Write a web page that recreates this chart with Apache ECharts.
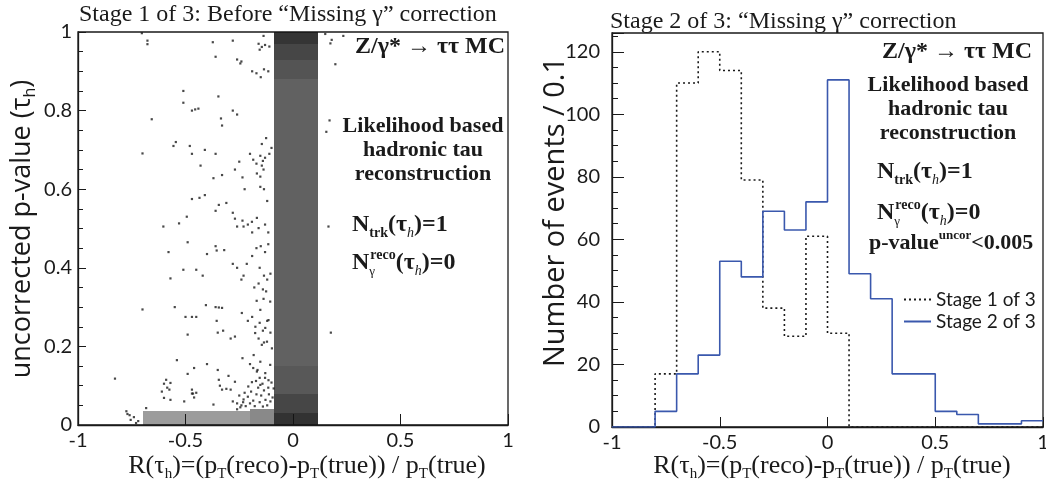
<!DOCTYPE html>
<html>
<head>
<meta charset="utf-8">
<script src="https://cdn.jsdelivr.net/npm/echarts@6/dist/echarts.min.js"></script>
<style>
  html, body { margin: 0; padding: 0; background: #fff; }
  #chart { width: 1046px; height: 485px; }
</style>
</head>
<body>
<div id="chart"></div>
<script>
// --- right panel: histograms of R, bin width 0.1 ---
const binEdges = [-1, -0.9, -0.8, -0.7, -0.6, -0.5, -0.4, -0.3, -0.2, -0.1, 0, 0.1, 0.2, 0.3, 0.4, 0.5, 0.6, 0.7, 0.8, 0.9, 1];
const stage1Counts = [0, 0, 17, 110, 120, 114, 79, 38, 29, 61, 30, 0, 0, 0, 0, 0, 0, 0, 0, 0];
const stage2Counts = [0, 0, 5, 17, 23, 53, 48, 69, 63, 72, 111, 49, 41, 17, 17, 5, 4, 1, 1, 2];
const seriesNames = ['Stage 1 of 3', 'Stage 2 of 3'];

// --- left panel: scatter of [R, uncorrected p-value] ---
// dense regions read as 2D density: [R0, R1, p0, p1, darkness]
const denseCells = [
  [-0.09, 0.115, 0.97, 1.00, 0.86],
  [-0.09, 0.115, 0.93, 0.97, 0.79],
  [-0.09, 0.115, 0.88, 0.93, 0.73],
  [-0.09, 0.115, 0.15, 0.88, 0.67],
  [-0.09, 0.115, 0.08, 0.15, 0.71],
  [-0.09, 0.115, 0.03, 0.08, 0.79],
  [-0.09, 0.115, 0.00, 0.03, 0.87],
  [-0.70, -0.20, 0.00, 0.035, 0.42],
  [-0.20, -0.09, 0.00, 0.04, 0.5]
];
// isolated events
const sparsePoints = [
  [-0.703, 0.997], [-0.677, 0.978], [-0.677, 0.969], [-0.373, 0.974], [-0.28, 0.978], [-0.137, 0.99],
  [-0.16, 0.97], [-0.155, 0.955], [-0.145, 0.962], [-0.13, 0.967], [-0.11, 0.963], [-0.36, 0.937],
  [-0.26, 0.93], [-0.245, 0.92], [-0.24, 0.925], [-0.19, 0.9], [-0.17, 0.895], [-0.15, 0.885],
  [-0.135, 0.905], [-0.115, 0.9], [0.174, 0.971], [0.18, 0.98], [0.197, 0.918], [0.234, 0.99], [0.15, 0.995],
  [-0.70, 0.691], [-0.657, 0.778], [-0.51, 0.82], [-0.51, 0.85], [-0.47, 0.8], [-0.455, 0.803], [-0.44, 0.805],
  [-0.347, 0.836], [-0.335, 0.78], [-0.33, 0.762], [-0.28, 0.8], [-0.26, 0.79], [-0.556, 0.71], [-0.545, 0.72],
  [-0.48, 0.71], [-0.47, 0.69], [-0.41, 0.7], [-0.36, 0.69], [-0.43, 0.66], [-0.25, 0.67],
  [-0.2, 0.69], [-0.185, 0.675], [-0.17, 0.665], [-0.152, 0.685], [-0.145, 0.715], [-0.125, 0.73], [-0.11, 0.69], [-0.1, 0.705],
  [-0.37, 0.628], [-0.33, 0.636], [-0.27, 0.65], [-0.235, 0.63], [-0.225, 0.6], [-0.168, 0.64], [-0.152, 0.606], [-0.137, 0.65],
  [-0.47, 0.575], [-0.435, 0.578], [-0.41, 0.585], [-0.36, 0.545], [-0.345, 0.56], [-0.31, 0.565],
  [-0.603, 0.505], [-0.53, 0.513], [-0.494, 0.53], [-0.28, 0.54], [-0.27, 0.525], [-0.26, 0.505], [-0.235, 0.52],
  [-0.23, 0.505], [-0.21, 0.51], [-0.19, 0.49], [-0.168, 0.527], [-0.13, 0.51], [-0.115, 0.49],
  [-0.191, 0.517], [-0.16, 0.501], [-0.152, 0.632], [-0.145, 0.66], [-0.14, 0.672], [-0.13, 0.68], [-0.135, 0.6], [-0.12, 0.57],
  [-0.579, 0.44], [-0.49, 0.465], [-0.40, 0.435], [-0.36, 0.455], [-0.355, 0.444], [-0.32, 0.445], [-0.57, 0.373],
  [-0.51, 0.395], [-0.45, 0.395], [-0.42, 0.38], [-0.28, 0.41], [-0.26, 0.4], [-0.24, 0.37], [-0.23, 0.38],
  [-0.215, 0.41], [-0.19, 0.43], [-0.155, 0.4], [-0.135, 0.38], [-0.12, 0.37], [-0.105, 0.385],
  [-0.17, 0.45], [-0.15, 0.455], [-0.13, 0.44], [-0.115, 0.46], [-0.18, 0.35], [-0.16, 0.36], [-0.14, 0.345], [-0.125, 0.34],
  [-0.70, 0.294], [-0.55, 0.3], [-0.5, 0.275], [-0.405, 0.305], [-0.36, 0.3], [-0.345, 0.299], [-0.33, 0.298],
  [-0.238, 0.285], [-0.49, 0.23], [-0.47, 0.275], [-0.45, 0.275], [-0.355, 0.265], [-0.35, 0.235], [-0.325, 0.24],
  [-0.29, 0.22], [-0.27, 0.225], [-0.21, 0.265], [-0.19, 0.275], [-0.175, 0.25], [-0.155, 0.26], [-0.14, 0.24],
  [-0.12, 0.265], [-0.105, 0.235], [-0.135, 0.21],
  [-0.169, 0.316], [-0.137, 0.321], [-0.106, 0.314], [-0.152, 0.293], [-0.114, 0.267], [-0.129, 0.247], [-0.176, 0.234],
  [-0.16, 0.22], [-0.145, 0.204], [-0.121, 0.212], [-0.098, 0.195], [-0.183, 0.178], [-0.152, 0.161], [-0.106, 0.153],
  [-0.168, 0.136], [-0.129, 0.132], [-0.191, 0.109], [-0.152, 0.102], [-0.114, 0.114], [-0.09, 0.093],
  [-0.54, 0.165], [-0.49, 0.13], [-0.46, 0.145], [-0.40, 0.155], [-0.828, 0.118], [-0.60, 0.105], [-0.585, 0.095],
  [-0.575, 0.09], [-0.61, 0.085], [-0.47, 0.09], [-0.465, 0.08], [-0.35, 0.14], [-0.345, 0.115], [-0.34, 0.1],
  [-0.30, 0.125], [-0.29, 0.09], [-0.27, 0.11], [-0.235, 0.17], [-0.2, 0.155], [-0.185, 0.145], [-0.165, 0.14],
  [-0.155, 0.12], [-0.13, 0.12], [-0.115, 0.095],
  [-0.245, 0.045], [-0.232, 0.058], [-0.22, 0.048], [-0.21, 0.072], [-0.2, 0.055], [-0.195, 0.085], [-0.185, 0.062],
  [-0.178, 0.048], [-0.17, 0.078], [-0.162, 0.095], [-0.155, 0.058], [-0.148, 0.075], [-0.14, 0.047], [-0.135, 0.088],
  [-0.128, 0.064], [-0.12, 0.05], [-0.112, 0.078], [-0.105, 0.06], [-0.1, 0.108], [-0.095, 0.07], [-0.142, 0.105],
  [-0.172, 0.112], [-0.208, 0.098], [-0.225, 0.082], [-0.26, 0.04],
  [0.155, 0.746], [0.17, 0.775], [0.165, 0.505], [0.176, 0.235],
  [-0.775, 0.035], [-0.77, 0.028], [-0.76, 0.025], [-0.755, 0.013], [-0.74, 0.02], [-0.72, 0.01], [-0.73, 0.005],
  [-0.683, 0.043], [-0.6, 0.069], [-0.57, 0.064], [-0.59, 0.115], [-0.57, 0.107], [-0.506, 0.06], [-0.47, 0.08],
  [-0.46, 0.07], [-0.45, 0.082], [-0.37, 0.052], [-0.33, 0.09], [-0.31, 0.092], [-0.28, 0.06], [-0.26, 0.055],
  [-0.25, 0.075], [-0.24, 0.05], [-0.23, 0.065]
];

const SERIF = '"Liberation Serif", "DejaVu Serif", serif';
const SANS = 'Lato, "Liberation Sans", sans-serif';
const TITLE_SANS = '"Open Sans", Lato, sans-serif';
const INK = '#1a1a1a';
const BLUE = '#3a58ad';

// histogram -> step line points at the bin edges
function stepData(counts) {
  const pts = counts.map((c, i) => [binEdges[i], c]);
  pts.push([binEdges[binEdges.length - 1], counts[counts.length - 1]]);
  return pts;
}

// rich text styles for the labels in the pads
function padRich(size) {
  const small = Math.round(size * 0.6);
  return {
    m: { fontFamily: SERIF, fontWeight: 'bold', fontSize: size, lineHeight: size + 6, fill: INK },
    s: { fontFamily: SERIF, fontWeight: 'bold', fontSize: small, lineHeight: small, verticalAlign: 'bottom', fill: INK },
    si: { fontFamily: SERIF, fontStyle: 'italic', fontSize: small, lineHeight: small, verticalAlign: 'bottom', fill: INK },
    gs: { fontFamily: SERIF, fontSize: small - 1, lineHeight: small - 2, verticalAlign: 'bottom', width: 1, fill: INK },
    u: { fontFamily: SERIF, fontWeight: 'bold', fontSize: small, lineHeight: small, verticalAlign: 'top', fill: INK }
  };
}

function plainRich(family, size) {
  const small = Math.round(size * 0.58);
  return {
    n: { fontFamily: family, fontSize: size, lineHeight: size + 6, fill: INK },
    s: { fontFamily: family, fontSize: small, lineHeight: small, verticalAlign: 'bottom', fill: INK }
  };
}

function txt(x, y, text, rich, align, rotation) {
  return {
    type: 'text', x: x, y: y, rotation: rotation || 0, silent: true,
    style: { text: text, rich: rich, textAlign: align || 'left', textVerticalAlign: 'middle', fill: INK }
  };
}

function plain(x, y, text, font, align) {
  return {
    type: 'text', x: x, y: y, silent: true,
    style: { text: text, font: font, textAlign: align || 'left', textVerticalAlign: 'middle', fill: INK }
  };
}

const xTitle = '{n|R(τ}{s|h}{n|)=(p}{s|T}{n|(reco)-p}{s|T}{n|(true)) / p}{s|T}{n|(true)}';
const nTrk = '{m|N}{s|trk}{m|(τ}{si|h}{m|)=1}';
const nGamma = '{m|N}{gs|γ}{u|reco}{m|(τ}{si|h}{m|)=0}';

const axisLabel = { fontFamily: SANS, fontSize: 20, color: INK };
const frameLine = { show: true, onZero: false, lineStyle: { color: INK, width: 1.3 } };

const chart = echarts.init(document.getElementById('chart'));
chart.setOption({
  animation: false,
  backgroundColor: '#fff',
  grid: [
    { left: 78, right: 538, top: 32, bottom: 60, show: true, borderColor: INK, borderWidth: 1.3, outerBoundsMode: 'none' },
    { left: 612, right: 3, top: 33, bottom: 58, show: true, borderColor: INK, borderWidth: 1.3, outerBoundsMode: 'none' }
  ],
  xAxis: [
    {
      type: 'value', gridIndex: 0, min: -1, max: 1, interval: 0.5,
      axisLine: frameLine,
      axisTick: { show: true, inside: true, length: 11, lineStyle: { color: INK } },
      axisLabel: Object.assign({ margin: 6 }, axisLabel),
      splitLine: { show: false }
    },
    {
      type: 'value', gridIndex: 1, min: -1, max: 1, interval: 0.5,
      axisLine: frameLine,
      axisTick: { show: true, inside: true, length: 10, lineStyle: { color: INK } },
      axisLabel: Object.assign({ margin: 6 }, axisLabel),
      splitLine: { show: false }
    }
  ],
  yAxis: [
    {
      type: 'value', gridIndex: 0, min: 0, max: 1, interval: 0.2,
      axisLine: frameLine,
      axisTick: { show: true, inside: true, length: 8, lineStyle: { color: INK } },
      minorTick: { show: true, splitNumber: 4, length: 5, lineStyle: { color: INK } },
      axisLabel: Object.assign({ margin: 6 }, axisLabel),
      splitLine: { show: false }
    },
    {
      type: 'value', gridIndex: 1, min: 0, max: 126, interval: 20,
      axisLine: frameLine,
      axisTick: { show: true, inside: true, length: 12, lineStyle: { color: INK } },
      minorTick: { show: true, splitNumber: 4, length: 6, lineStyle: { color: INK } },
      axisLabel: Object.assign({ margin: 12, formatter: v => (v % 20 === 0 ? String(v) : '') }, axisLabel),
      splitLine: { show: false }
    }
  ],
  legend: {
    data: seriesNames,
    orient: 'vertical', left: 898, top: 285,
    itemWidth: 27, itemHeight: 12, itemGap: 3,
    itemStyle: { opacity: 0 },
    textStyle: { fontFamily: SANS, fontSize: 19, color: INK }
  },
  series: [
    {
      type: 'custom', xAxisIndex: 0, yAxisIndex: 0, silent: true,
      data: denseCells,
      encode: { x: [0, 1], y: [2, 3] },
      renderItem: (params, api) => {
        const a = api.coord([api.value(0), api.value(2)]);
        const b = api.coord([api.value(1), api.value(3)]);
        return {
          type: 'rect',
          shape: { x: Math.round(a[0]), y: Math.round(b[1]), width: Math.round(b[0]) - Math.round(a[0]), height: Math.round(a[1]) - Math.round(b[1]) },
          style: { fill: 'rgba(20,20,20,' + api.value(4) + ')' }
        };
      }
    },
    {
      type: 'scatter', xAxisIndex: 0, yAxisIndex: 0, silent: true,
      data: sparsePoints, symbol: 'rect', symbolSize: 2.2,
      itemStyle: { color: INK }
    },
    {
      name: seriesNames[0], type: 'line', xAxisIndex: 1, yAxisIndex: 1,
      data: stepData(stage1Counts), step: 'end', symbol: 'none',
      lineStyle: { color: INK, width: 1.6, type: [2, 3] },
      itemStyle: { color: INK }
    },
    {
      name: seriesNames[1], type: 'line', xAxisIndex: 1, yAxisIndex: 1,
      data: stepData(stage2Counts), step: 'end', symbol: 'none',
      lineStyle: { color: BLUE, width: 1.6 },
      itemStyle: { color: BLUE }
    }
  ],
  graphic: [
    // pad titles
    plain(79, 15, 'Stage 1 of 3: Before “Missing γ” correction', '24px ' + SERIF),
    plain(610, 22, 'Stage 2 of 3: “Missing γ” correction', '24px ' + SERIF),
    // process label
    plain(505, 47, 'Z/γ* → ττ MC', 'bold 24px ' + SERIF, 'right'),
    plain(1032, 52, 'Z/γ* → ττ MC', 'bold 24px ' + SERIF, 'right'),
    // method text, left pad
    plain(423, 126, 'Likelihood based', 'bold 22px ' + SERIF, 'center'),
    plain(423, 150, 'hadronic tau', 'bold 22px ' + SERIF, 'center'),
    plain(423, 174, 'reconstruction', 'bold 22px ' + SERIF, 'center'),
    txt(352, 225, nTrk, padRich(24)),
    txt(352, 263, nGamma, padRich(24)),
    // method text, right pad
    plain(948, 85, 'Likelihood based', 'bold 22px ' + SERIF, 'center'),
    plain(948, 109, 'hadronic tau', 'bold 22px ' + SERIF, 'center'),
    plain(948, 133, 'reconstruction', 'bold 22px ' + SERIF, 'center'),
    txt(877, 172, nTrk, padRich(24)),
    txt(877, 213, nGamma, padRich(24)),
    txt(869, 243, '{m|p-value}{u|uncor}{m|<0.005}', padRich(22)),
    // axis titles
    txt(307, 466, xTitle, plainRich(SERIF, 26), 'center'),
    txt(832, 466, xTitle, plainRich(SERIF, 26), 'center'),
    txt(22, 229, '{n|uncorrected p-value (τ}{s|h}{n|)}', plainRich(TITLE_SANS, 27), 'center', Math.PI / 2),
    txt(556, 212, '{n|Number of events / 0.1}', plainRich(TITLE_SANS, 29), 'center', Math.PI / 2)
  ]
});
</script>
</body>
</html>
